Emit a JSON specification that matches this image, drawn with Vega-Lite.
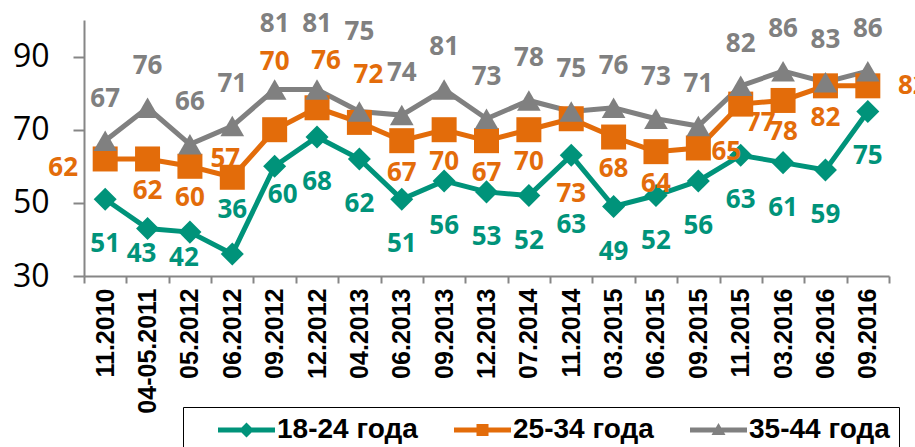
{
  "$schema": "https://vega.github.io/schema/vega-lite/v6.json",
  "autosize": "none",
  "width": 805,
  "height": 256,
  "padding": {"left": 84, "top": 20, "right": 26, "bottom": 171},
  "background": "white",
  "config": {"view": {"stroke": null}, "text": {"baseline": "middle", "font": "Open Sans", "fontWeight": "bold", "fontSize": 26}},
  "data": {"values": [
    {"d": "11.2010", "s": "18-24 года", "v": 51}, {"d": "04-05.2011", "s": "18-24 года", "v": 43}, {"d": "05.2012", "s": "18-24 года", "v": 42}, {"d": "06.2012", "s": "18-24 года", "v": 36}, {"d": "09.2012", "s": "18-24 года", "v": 60}, {"d": "12.2012", "s": "18-24 года", "v": 68}, {"d": "04.2013", "s": "18-24 года", "v": 62}, {"d": "06.2013", "s": "18-24 года", "v": 51}, {"d": "09.2013", "s": "18-24 года", "v": 56}, {"d": "12.2013", "s": "18-24 года", "v": 53}, {"d": "07.2014", "s": "18-24 года", "v": 52}, {"d": "11.2014", "s": "18-24 года", "v": 63}, {"d": "03.2015", "s": "18-24 года", "v": 49}, {"d": "06.2015", "s": "18-24 года", "v": 52}, {"d": "09.2015", "s": "18-24 года", "v": 56}, {"d": "11.2015", "s": "18-24 года", "v": 63}, {"d": "03.2016", "s": "18-24 года", "v": 61}, {"d": "06.2016", "s": "18-24 года", "v": 59}, {"d": "09.2016", "s": "18-24 года", "v": 75},
    {"d": "11.2010", "s": "25-34 года", "v": 62}, {"d": "04-05.2011", "s": "25-34 года", "v": 62}, {"d": "05.2012", "s": "25-34 года", "v": 60}, {"d": "06.2012", "s": "25-34 года", "v": 57}, {"d": "09.2012", "s": "25-34 года", "v": 70}, {"d": "12.2012", "s": "25-34 года", "v": 76}, {"d": "04.2013", "s": "25-34 года", "v": 72}, {"d": "06.2013", "s": "25-34 года", "v": 67}, {"d": "09.2013", "s": "25-34 года", "v": 70}, {"d": "12.2013", "s": "25-34 года", "v": 67}, {"d": "07.2014", "s": "25-34 года", "v": 70}, {"d": "11.2014", "s": "25-34 года", "v": 73}, {"d": "03.2015", "s": "25-34 года", "v": 68}, {"d": "06.2015", "s": "25-34 года", "v": 64}, {"d": "09.2015", "s": "25-34 года", "v": 65}, {"d": "11.2015", "s": "25-34 года", "v": 77}, {"d": "03.2016", "s": "25-34 года", "v": 78}, {"d": "06.2016", "s": "25-34 года", "v": 82}, {"d": "09.2016", "s": "25-34 года", "v": 82},
    {"d": "11.2010", "s": "35-44 года", "v": 67}, {"d": "04-05.2011", "s": "35-44 года", "v": 76}, {"d": "05.2012", "s": "35-44 года", "v": 66}, {"d": "06.2012", "s": "35-44 года", "v": 71}, {"d": "09.2012", "s": "35-44 года", "v": 81}, {"d": "12.2012", "s": "35-44 года", "v": 81}, {"d": "04.2013", "s": "35-44 года", "v": 75}, {"d": "06.2013", "s": "35-44 года", "v": 74}, {"d": "09.2013", "s": "35-44 года", "v": 81}, {"d": "12.2013", "s": "35-44 года", "v": 73}, {"d": "07.2014", "s": "35-44 года", "v": 78}, {"d": "11.2014", "s": "35-44 года", "v": 75}, {"d": "03.2015", "s": "35-44 года", "v": 76}, {"d": "06.2015", "s": "35-44 года", "v": 73}, {"d": "09.2015", "s": "35-44 года", "v": 71}, {"d": "11.2015", "s": "35-44 года", "v": 82}, {"d": "03.2016", "s": "35-44 года", "v": 86}, {"d": "06.2016", "s": "35-44 года", "v": 83}, {"d": "09.2016", "s": "35-44 года", "v": 86}
  ]},
  "encoding": {
    "x": {
      "field": "d", "type": "ordinal", "sort": null,
      "scale": {"type": "band", "paddingInner": 0, "paddingOuter": 0},
      "axis": {
        "title": null, "labelAngle": -90, "tickBand": "extent",
        "labelFont": "Liberation Sans", "labelFontWeight": "bold", "labelFontSize": 25, "labelColor": "black",
        "labelPadding": 5, "tickSize": 7, "tickColor": "#868686", "tickWidth": 2,
        "domainColor": "#868686", "domainWidth": 2, "labelOverlap": false
      }
    },
    "y": {
      "field": "v", "type": "quantitative",
      "scale": {"domain": [30, 100], "nice": false, "zero": false},
      "axis": {
        "title": null, "values": [30, 50, 70, 90], "grid": false,
        "labelFont": "Open Sans", "labelFontSize": 32, "labelColor": "black",
        "labelPadding": 24, "tickSize": 11, "tickColor": "#868686", "tickWidth": 2,
        "domainColor": "#868686", "domainWidth": 2
      }
    }
  },
  "layer": [
    {
      "mark": {"type": "line", "strokeWidth": 5},
      "encoding": {
        "color": {
          "field": "s", "type": "nominal",
          "scale": {"domain": ["18-24 года", "25-34 года", "35-44 года"], "range": ["#00937A", "#E36C0A", "#808080"]},
          "legend": {
            "title": null, "orient": "none", "direction": "horizontal",
            "legendX": 99, "legendY": 387, "padding": 9,
            "strokeColor": "black", "fillColor": "white",
            "symbolSize": 400, "symbolStrokeWidth": 0, "labelOffset": 57, "columnPadding": 10,
            "labelFont": "Liberation Sans", "labelFontWeight": "bold", "labelFontSize": 28, "labelColor": "black",
            "labelLimit": 400,
            "encode": {
              "symbols": {
                "update": {
                  "shape": {"signal": "datum.value == '18-24 года' ? 'M1.2,-0.25H6.9V0.25H1.2Z M4.05,-0.75L4.8,0L4.05,0.75L3.3,0Z' : datum.value == '25-34 года' ? 'M1.2,-0.25H6.9V0.25H1.2Z M3.45,-0.6H4.65V0.6H3.45Z' : 'M1.2,-0.25H6.9V0.25H1.2Z M4.05,-0.7L4.75,0.5L3.35,0.5Z'"},
                  "fill": {"signal": "datum.value == '18-24 года' ? '#00937A' : datum.value == '25-34 года' ? '#E36C0A' : '#808080'"},
                  "fillOpacity": {"value": 1},
                  "strokeWidth": {"value": 0}
                }
              }
            }
          }
        }
      }
    },
    {
      "transform": [{"filter": "datum.s == '18-24 года'"}],
      "mark": {"type": "point", "shape": "diamond", "filled": true, "opacity": 1, "size": 530, "color": "#00937A"}
    },
    {
      "transform": [{"filter": "datum.s == '25-34 года'"}],
      "mark": {"type": "point", "shape": "square", "filled": true, "opacity": 1, "size": 625, "color": "#E36C0A"}
    },
    {
      "transform": [{"filter": "datum.s == '35-44 года'"}],
      "mark": {"type": "point", "shape": "triangle-up", "filled": true, "opacity": 1, "size": 560, "color": "#808080"}
    },
    {
      "transform": [{"filter": "datum.s == '18-24 года' && indexof(['04-05.2011','05.2012','06.2012','09.2012','11.2014'], datum.d) < 0"}],
      "mark": {"type": "text", "dy": 45, "color": "#00937A"},
      "encoding": {"text": {"field": "v"}}
    },
    {
      "transform": [{"filter": "datum.s == '18-24 года' && indexof(['04-05.2011','05.2012'], datum.d) >= 0"}],
      "mark": {"type": "text", "dy": 26, "dx": -6, "color": "#00937A"},
      "encoding": {"text": {"field": "v"}}
    },
    {
      "transform": [{"filter": "datum.s == '18-24 года' && datum.d == '06.2012'"}],
      "mark": {"type": "text", "dy": -44, "color": "#00937A"},
      "encoding": {"text": {"field": "v"}}
    },
    {
      "transform": [{"filter": "datum.s == '18-24 года' && datum.d == '09.2012'"}],
      "mark": {"type": "text", "dy": 29, "dx": 8, "color": "#00937A"},
      "encoding": {"text": {"field": "v"}}
    },
    {
      "transform": [{"filter": "datum.s == '18-24 года' && datum.d == '11.2014'"}],
      "mark": {"type": "text", "dy": 70, "color": "#00937A"},
      "encoding": {"text": {"field": "v"}}
    },
    {
      "transform": [{"filter": "datum.s == '25-34 года' && indexof(['11.2010','06.2012','09.2012','12.2012','04.2013','11.2014','09.2015','11.2015','09.2016'], datum.d) < 0"}],
      "mark": {"type": "text", "dy": 32, "color": "#E36C0A"},
      "encoding": {"text": {"field": "v"}}
    },
    {
      "transform": [{"filter": "datum.s == '25-34 года' && datum.d == '11.2010'"}],
      "mark": {"type": "text", "dy": 9, "dx": -42, "color": "#E36C0A"},
      "encoding": {"text": {"field": "v"}}
    },
    {
      "transform": [{"filter": "datum.s == '25-34 года' && datum.d == '06.2012'"}],
      "mark": {"type": "text", "dy": -18, "dx": -7, "color": "#E36C0A"},
      "encoding": {"text": {"field": "v"}}
    },
    {
      "transform": [{"filter": "datum.s == '25-34 года' && datum.d == '09.2012'"}],
      "mark": {"type": "text", "dy": -68, "color": "#E36C0A"},
      "encoding": {"text": {"field": "v"}}
    },
    {
      "transform": [{"filter": "datum.s == '25-34 года' && indexof(['12.2012','04.2013'], datum.d) >= 0"}],
      "mark": {"type": "text", "dy": -47, "dx": 9, "color": "#E36C0A"},
      "encoding": {"text": {"field": "v"}}
    },
    {
      "transform": [{"filter": "datum.s == '25-34 года' && datum.d == '11.2014'"}],
      "mark": {"type": "text", "dy": 75, "color": "#E36C0A"},
      "encoding": {"text": {"field": "v"}}
    },
    {
      "transform": [{"filter": "datum.s == '25-34 года' && datum.d == '09.2015'"}],
      "mark": {"type": "text", "dy": 4, "dx": 28, "color": "#E36C0A"},
      "encoding": {"text": {"field": "v"}}
    },
    {
      "transform": [{"filter": "datum.s == '25-34 года' && datum.d == '11.2015'"}],
      "mark": {"type": "text", "dy": 19, "dx": 20, "color": "#E36C0A"},
      "encoding": {"text": {"field": "v"}}
    },
    {
      "transform": [{"filter": "datum.s == '25-34 года' && datum.d == '09.2016'"}],
      "mark": {"type": "text", "dy": 0, "dx": 45, "color": "#E36C0A"},
      "encoding": {"text": {"field": "v"}}
    },
    {
      "transform": [{"filter": "datum.s == '35-44 года' && indexof(['09.2012','12.2012','04.2013'], datum.d) < 0"}],
      "mark": {"type": "text", "dy": -42, "color": "#808080"},
      "encoding": {"text": {"field": "v"}}
    },
    {
      "transform": [{"filter": "datum.s == '35-44 года' && indexof(['09.2012','12.2012'], datum.d) >= 0"}],
      "mark": {"type": "text", "dy": -65, "color": "#808080"},
      "encoding": {"text": {"field": "v"}}
    },
    {
      "transform": [{"filter": "datum.s == '35-44 года' && datum.d == '04.2013'"}],
      "mark": {"type": "text", "dy": -79, "color": "#808080"},
      "encoding": {"text": {"field": "v"}}
    }
  ]
}
